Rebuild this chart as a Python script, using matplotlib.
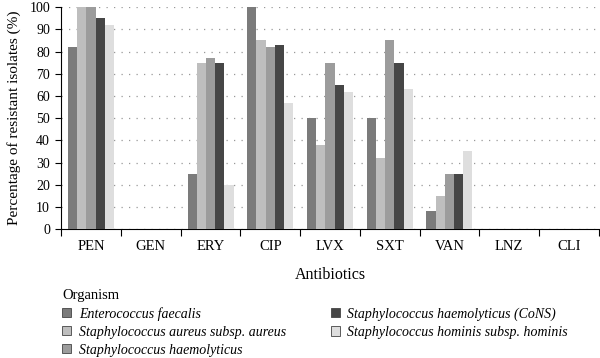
import numpy as np
import matplotlib
matplotlib.use('Agg')
import matplotlib.pyplot as plt
from matplotlib.patches import Patch

plt.rcParams['font.family'] = 'serif'
plt.rcParams['font.serif'] = ['Liberation Serif', 'DejaVu Serif']

# data
antibiotics = ['PEN', 'GEN', 'ERY', 'CIP', 'LVX', 'SXT', 'VAN', 'LNZ', 'CLI']
organisms = ['Enterococcus faecalis',
             'Staphylococcus aureus subsp. aureus',
             'Staphylococcus haemolyticus',
             'Staphylococcus haemolyticus (CoNS)',
             'Staphylococcus hominis subsp. hominis']
e_faecalis = [82, 0, 25, 100, 50, 50, 8, 0, 0]
s_aureus = [100, 0, 75, 85, 38, 32, 15, 0, 0]
s_haemolyticus = [100, 0, 77, 82, 75, 85, 25, 0, 0]
s_haemolyticus_cons = [95, 0, 75, 83, 65, 75, 25, 0, 0]
s_hominis = [92, 0, 20, 57, 62, 63, 35, 0, 0]
colors = ['#7b7b7b', '#bebebe', '#9c9c9c', '#464646', '#dedede']

series = [e_faecalis, s_aureus, s_haemolyticus, s_haemolyticus_cons, s_hominis]

fig = plt.figure(figsize=(6, 3.58), dpi=100)
ax = fig.add_axes([0.102, 0.36, 0.896, 0.62])

x = np.arange(len(antibiotics))
w = 0.154
for i, (vals, c) in enumerate(zip(series, colors)):
    ax.bar(x + (i - 2) * w, vals, width=w, color=c, zorder=3)

ax.set_xlim(-0.5, len(antibiotics) - 0.5)
ax.set_ylim(0, 100)
ax.set_yticks(range(0, 101, 10))
ax.yaxis.grid(True, color='#999999', linestyle=(0, (1, 5)), linewidth=0.9, zorder=0)

ax.set_xticks(x)
ax.set_xticklabels(antibiotics)
ax.tick_params(axis='x', which='major', length=0, pad=8, labelsize=10.5)
ax.set_xticks(np.arange(-0.5, len(antibiotics)), minor=True)
ax.tick_params(axis='x', which='minor', length=5, width=0.8)
ax.tick_params(axis='y', length=4, width=0.8, labelsize=10, pad=4)

for s in ['top', 'right']:
    ax.spines[s].set_visible(False)
ax.spines['left'].set_linewidth(0.8)
ax.spines['bottom'].set_linewidth(0.8)

ax.set_ylabel('Percentage of resistant isolates (%)', fontsize=11, labelpad=6)
ax.set_xlabel('Antibiotics', fontsize=11.5, labelpad=10)

handles = [Patch(facecolor=c, edgecolor='#444444', linewidth=0.6) for c in colors]
leg = fig.legend(handles, organisms, ncol=2, loc='upper left',
                 bbox_to_anchor=(0.104, 0.193), frameon=False,
                 title='Organism', alignment='left',
                 prop={'style': 'italic', 'size': 10},
                 title_fontsize=10.5, handlelength=0.65, handleheight=0.65,
                 handletextpad=0.55, labelspacing=0.36, columnspacing=3.2,
                 borderpad=0, borderaxespad=0)

fig.savefig('out.png', dpi=100)
